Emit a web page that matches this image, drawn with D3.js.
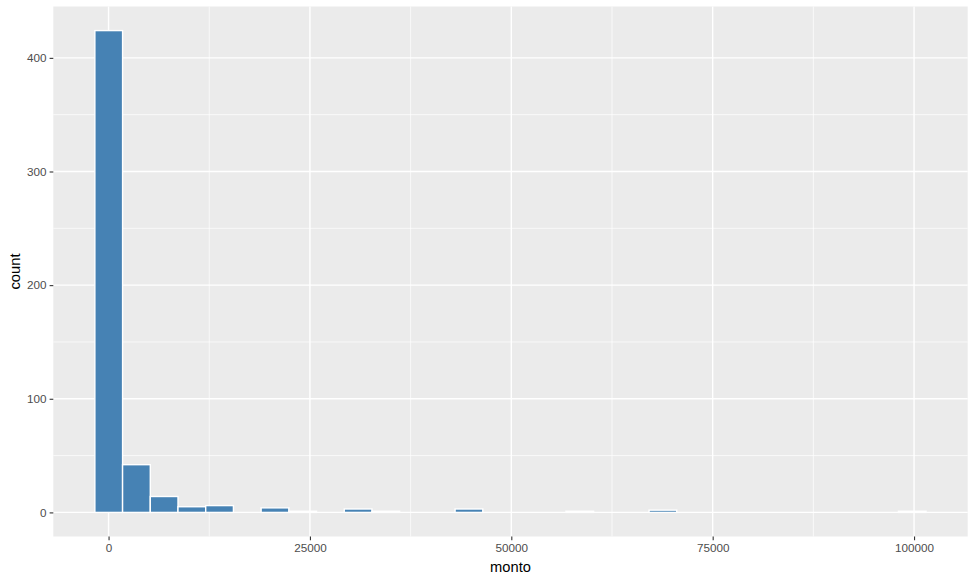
<!DOCTYPE html>
<html>
<head>
  <meta charset="utf-8">
  <script src="https://cdn.jsdelivr.net/npm/d3@7"></script>
  <style>
    body { margin: 0; background: #fff; }
    text { font-family: "Liberation Sans", Arial, sans-serif; }
  </style>
</head>
<body>
  <svg id="hist" width="976" height="581"></svg>
  <script>
    // histogram bins (30 bins, equal width) and counts
    let binLow = -1700
    let binWidth = 3440
    let counts = [424, 42, 14, 5, 6, 0, 4, 1, 0, 3,
                  1, 0, 0, 3, 0, 0, 0, 1, 0, 0,
                  2, 0, 0, 0, 0, 0, 0, 0, 0, 1]
    let xTicks = [0, 25000, 50000, 75000, 100000]
    let yTicks = [0, 100, 200, 300, 400]
    let xMinor = [12500, 37500, 62500, 87500]
    let yMinor = [50, 150, 250, 350]

    let bins = counts.map((c, i) => ({x0: binLow + i * binWidth, x1: binLow + (i + 1) * binWidth, n: c}))

    let pLeft = 53.3, pRight = 967.7, pTop = 6.5, pBottom = 536.5

    let lo = binLow, hi = binLow + counts.length * binWidth
    let padX = (hi - lo) * 0.05
    let scX = d3.scaleLinear()
                .domain([lo - padX, hi + padX])
                .range([pLeft, pRight])

    let maxN = d3.max(counts)
    let scY = d3.scaleLinear()
                .domain([-maxN * 0.05, maxN * 1.05])
                .range([pBottom, pTop])

    let svg = d3.select("#hist")

    svg.append("rect")
       .attr("x", pLeft).attr("y", pTop)
       .attr("width", pRight - pLeft).attr("height", pBottom - pTop)
       .attr("fill", "#EBEBEB")

    // minor grid
    svg.selectAll("line.minx").data(xMinor).enter().append("line")
       .attr("x1", d => scX(d)).attr("x2", d => scX(d))
       .attr("y1", pTop).attr("y2", pBottom)
       .attr("stroke", "#fff").attr("stroke-width", 0.7)
    svg.selectAll("line.miny").data(yMinor).enter().append("line")
       .attr("y1", d => scY(d)).attr("y2", d => scY(d))
       .attr("x1", pLeft).attr("x2", pRight)
       .attr("stroke", "#fff").attr("stroke-width", 0.7)

    // major grid
    svg.selectAll("line.majx").data(xTicks).enter().append("line")
       .attr("x1", d => scX(d)).attr("x2", d => scX(d))
       .attr("y1", pTop).attr("y2", pBottom)
       .attr("stroke", "#fff").attr("stroke-width", 1.4)
    svg.selectAll("line.majy").data(yTicks).enter().append("line")
       .attr("y1", d => scY(d)).attr("y2", d => scY(d))
       .attr("x1", pLeft).attr("x2", pRight)
       .attr("stroke", "#fff").attr("stroke-width", 1.4)

    // bars
    svg.selectAll("rect.bar").data(bins).enter().append("rect")
       .attr("class", "bar")
       .attr("x", d => scX(d.x0))
       .attr("width", d => scX(d.x1) - scX(d.x0))
       .attr("y", d => scY(d.n))
       .attr("height", d => scY(0) - scY(d.n))
       .attr("fill", "steelblue")
       .attr("stroke", "#fff")
       .attr("stroke-width", 1.4)

    // axes
    let xAxis = d3.axisBottom(scX).tickValues(xTicks).tickFormat(d3.format("d"))
                  .tickSize(3.7).tickPadding(3)
    let gx = svg.append("g").attr("transform", `translate(0,${pBottom})`).call(xAxis)
    let yAxis = d3.axisLeft(scY).tickValues(yTicks).tickFormat(d3.format("d"))
                  .tickSize(3.7).tickPadding(3)
    let gy = svg.append("g").attr("transform", `translate(${pLeft},0)`).call(yAxis)

    for (let g of [gx, gy]) {
      g.select(".domain").remove()
      g.selectAll(".tick line").attr("stroke", "#333").attr("stroke-width", 1.1)
      g.selectAll(".tick text").attr("fill", "#4D4D4D")
       .style("font-size", "11.7px").style("font-family", "'Liberation Sans', Arial, sans-serif")
    }

    svg.append("text")
       .attr("x", (pLeft + pRight) / 2).attr("y", 572)
       .attr("text-anchor", "middle")
       .style("font-size", "14.7px")
       .text("monto")

    svg.append("text")
       .attr("transform", `translate(20,${(pTop + pBottom) / 2}) rotate(-90)`)
       .attr("text-anchor", "middle")
       .style("font-size", "14.7px")
       .text("count")
  </script>
</body>
</html>
